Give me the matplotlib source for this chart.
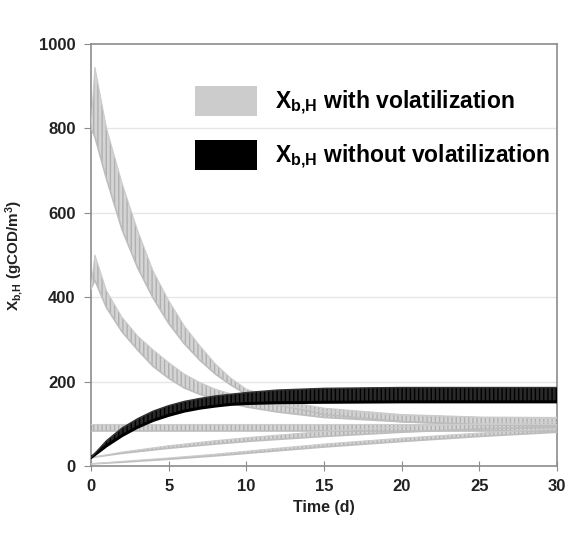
import matplotlib
matplotlib.use("Agg")
import matplotlib.pyplot as plt
from matplotlib.patches import Patch

plt.rcParams['font.family'] = ['Liberation Sans', 'DejaVu Sans']
plt.rcParams['font.weight'] = 'bold'
plt.rcParams['mathtext.fontset'] = 'custom'
plt.rcParams['mathtext.rm'] = 'Liberation Sans:bold'
plt.rcParams['mathtext.it'] = 'Liberation Sans:bold'
plt.rcParams['mathtext.bf'] = 'Liberation Sans:bold'
plt.rcParams['hatch.linewidth'] = 1.0

# ---- data ----
# gray series: "with volatilization" (lower envelope / upper envelope of sawtooth)
tA = [0, 0.25, 1, 2, 3, 4, 5, 6, 7, 8, 9, 10, 12, 15, 20, 25, 30]
A_low = [800, 780, 680, 560, 470, 398, 338, 290, 251, 218, 192, 170, 145, 122, 105, 98, 95]
A_high = [800, 945, 800, 670, 558, 462, 392, 332, 285, 242, 208, 182, 157, 137, 122, 116, 115]

tB = [0, 0.25, 1, 2, 3, 4, 5, 6, 7, 8, 10, 12, 15, 20, 25, 30]
B_low = [420, 440, 375, 318, 275, 236, 208, 185, 170, 158, 140, 128, 115, 105, 98, 95]
B_high = [420, 500, 415, 352, 308, 275, 245, 218, 198, 182, 160, 145, 130, 120, 115, 112]

tC = [0, 30]
C_low = [82, 82]
C_high = [100, 100]

tD = [0, 2, 5, 8, 10, 12, 15, 20, 25, 30]
D_low = [20, 30, 42, 52, 58, 63, 70, 80, 88, 92]
D_high = [20, 33, 48, 60, 67, 73, 82, 93, 100, 104]

tE = [0, 2, 5, 8, 10, 12, 15, 20, 25, 30]
E_low = [5, 9, 16, 24, 30, 36, 45, 58, 70, 80]
E_high = [5, 11, 19, 28, 35, 42, 52, 66, 78, 88]

# black series: "without volatilization"
tK = [0, 1, 2, 3, 4, 5, 6, 7, 8, 9, 10, 12, 15, 20, 25, 30]
K_low = [20, 48, 72, 92, 108, 120, 130, 137, 142, 146, 148, 150, 151, 152, 152, 152]
K_high = [20, 60, 90, 112, 130, 143, 153, 160, 166, 170, 174, 180, 184, 186, 186, 186]

xticks = [0, 5, 10, 15, 20, 25, 30]
yticks = [0, 200, 400, 600, 800, 1000]
labels = [r'$X_{b,\!H}$ with volatilization', r'$X_{b,\!H}$ without volatilization']

# ---- figure ----
fig = plt.figure(figsize=(5.74, 5.34), dpi=100)
ax = fig.add_axes([91/574, 1-466/534, (557-91)/574, (466-44)/534])

for yv in yticks[1:-1]:
    ax.axhline(yv, color='#e6e6e6', lw=1.0, zorder=0)

gray_face = '#d4d4d4'
gray_hatch = '#b0b0b0'
for t, lo, hi in [(tA, A_low, A_high), (tB, B_low, B_high), (tC, C_low, C_high),
                  (tD, D_low, D_high), (tE, E_low, E_high)]:
    ax.fill_between(t, lo, hi, facecolor=gray_face, edgecolor=gray_hatch,
                    hatch='||||', linewidth=0, zorder=2)
    ax.plot(t, lo, color='#bdbdbd', lw=1.2, zorder=3)
    ax.plot(t, hi, color='#cccccc', lw=0.8, zorder=3)

ax.fill_between(tK, K_low, K_high, facecolor='#2a2a2a', edgecolor='black',
                hatch='||||', linewidth=0, zorder=4)
ax.plot(tK, K_low, color='black', lw=2.2, zorder=5)
ax.plot(tK, K_high, color='#333333', lw=1.0, zorder=5)

ax.set_xlim(0, 30)
ax.set_ylim(0, 1000)
ax.set_xticks(xticks)
ax.set_yticks(yticks)
for s in ['left', 'bottom', 'right', 'top']:
    ax.spines[s].set_color('#8c8c8c')
    ax.spines[s].set_linewidth(1.2)
ax.tick_params(axis='y', direction='out', length=5, color='#8c8c8c',
               labelsize=12, pad=6, labelcolor='#222222')
ax.tick_params(axis='x', direction='inout', length=7, color='#8c8c8c',
               labelsize=12, pad=6, labelcolor='#222222')
for lab in ax.get_xticklabels() + ax.get_yticklabels():
    lab.set_fontweight('bold')

ax.set_xlabel('Time (d)', fontsize=11.5, fontweight='bold', labelpad=4, color='#222222')
ax.set_ylabel(r'$X_{b,\!H}$ (gCOD/m$^{3}$)', fontsize=11, fontweight='bold',
              labelpad=10, color='#222222')

handles = [Patch(facecolor='#cccccc', edgecolor='none'),
           Patch(facecolor='black', edgecolor='none')]
fig.legend(handles, labels, loc='upper left',
           bbox_to_anchor=(195/574, 1-86/534), bbox_transform=fig.transFigure,
           frameon=False, handlelength=2.7, handleheight=1.65,
           labelspacing=1.0, handletextpad=0.8, borderpad=0, borderaxespad=0,
           prop={'weight': 'bold', 'size': 16.5})

fig.savefig('out.png', dpi=100)
